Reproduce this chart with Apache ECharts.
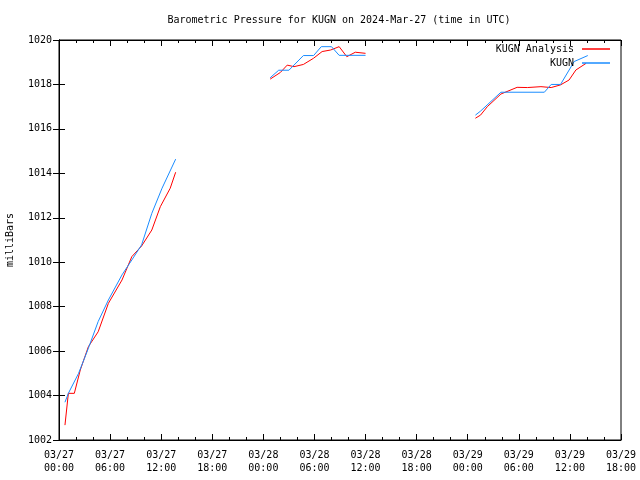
<!DOCTYPE html>
<html><head><meta charset="utf-8">
<script src="https://cdn.jsdelivr.net/npm/echarts@6/dist/echarts.min.js"></script>
<style>html,body{margin:0;padding:0;background:#fff}#c{width:640px;height:480px}</style>
</head><body><div id="c"></div>
<script>
// Hours since 03/27 00:00 UTC; null separates gaps
var analysisHours  = [0.7,1.1,1.8,2.5,3.45,4.6,5.8,7.4,8.55,9.7,10.9,11.9,13.06,13.7, 20,
  24.8,26.0,26.8,27.6,28.7,29.9,30.9,31.9,32.9,33.8,34.8,36.0, 42,
  48.9,49.5,50.3,51.9,53.8,55.0,56.6,57.8,58.9,59.9,60.7,61.9];
var analysisValues = [1002.67,1004.1,1004.1,1005.15,1006.2,1006.87,1008.15,1009.2,1010.25,1010.73,1011.45,1012.5,1013.33,1014.05, null,
  1018.24,1018.54,1018.87,1018.8,1018.9,1019.18,1019.48,1019.55,1019.7,1019.25,1019.45,1019.4, null,
  1016.48,1016.62,1017.0,1017.57,1017.87,1017.86,1017.9,1017.86,1017.98,1018.2,1018.65,1018.95];
var kugnHours  = [0.7,1.1,2.3,3.45,4.6,5.8,7.4,8.55,9.7,10.9,12.1,13.7, 20,
  24.8,25.8,27.0,28.7,29.9,30.8,32.0,32.9,36.0, 42,
  48.9,49.5,51.9,57.0,57.8,58.9,60.5,62.1];
var kugnValues = [1003.7,1004.1,1005.0,1006.13,1007.33,1008.3,1009.43,1010.1,1010.78,1012.2,1013.33,1014.64, null,
  1018.3,1018.64,1018.64,1019.3,1019.3,1019.7,1019.7,1019.31,1019.31, null,
  1016.62,1016.8,1017.65,1017.65,1018.0,1018.0,1019.03,1019.3];
var dayLabels = ['03/27','03/27','03/27','03/27','03/28','03/28','03/28','03/28','03/29','03/29','03/29','03/29'];
var timeLabels = ['00:00','06:00','12:00','18:00','00:00','06:00','12:00','18:00','00:00','06:00','12:00','18:00'];
var yTicks = [1002,1004,1006,1008,1010,1012,1014,1016,1018,1020];

function pairs(h, v){ return h.map(function(x,i){ return [x, v[i]]; }); }
var FONT = 'DejaVu Sans Mono';
var chart = echarts.init(document.getElementById('c'), null, {renderer:'canvas'});
var xCommon = {
  type:'value', min:0, max:66, interval:6,
  axisLine:{show:true, lineStyle:{color:'#000', width:1}},
  axisTick:{show:true, inside:true, length:6, lineStyle:{color:'#000'}},
  minorTick:{show:true, splitNumber:3, length:3, lineStyle:{color:'#000'}},
  splitLine:{show:false}
};
chart.setOption({
  animation:false,
  backgroundColor:'#fff',
  title:{text:'Barometric Pressure for KUGN on 2024-Mar-27 (time in UTC)', left:339, textAlign:'center', top:15, padding:0,
    textStyle:{fontFamily:FONT, fontSize:10, fontWeight:'normal', color:'#000'}},
  legend:[
    {data:['KUGN Analysis'], right:30, top:44, padding:0, orient:'vertical', align:'right', icon:'rect', itemWidth:28, itemHeight:1.5,
     textStyle:{fontFamily:FONT, fontSize:10, color:'#000', padding:[0,3,0,0]}},
    {data:['KUGN'], right:30, top:58, padding:0, orient:'vertical', align:'right', icon:'rect', itemWidth:28, itemHeight:1.5,
     textStyle:{fontFamily:FONT, fontSize:10, color:'#000', padding:[0,3,0,0]}}
  ],
  grid:{left:59, right:19, top:40, bottom:40, show:true, borderColor:'#000', borderWidth:1, containLabel:false, outerBoundsMode:'none'},
  xAxis:[
    Object.assign({}, xCommon, {position:'bottom',
      axisLabel:{show:true, margin:9, lineHeight:13, fontFamily:FONT, fontSize:10, color:'#000',
        formatter:function(v){ var i=Math.round(v/6); return dayLabels[i]+'\n'+timeLabels[i]; }}}),
    Object.assign({}, xCommon, {position:'top', axisLabel:{show:false}})
  ],
  yAxis:[
    {type:'value', min:yTicks[0], max:yTicks[yTicks.length-1], interval:2, position:'left',
     name:'milliBars', nameLocation:'middle', nameGap:44, nameRotate:90,
     nameTextStyle:{fontFamily:FONT, fontSize:10, color:'#000'},
     axisLine:{show:true, lineStyle:{color:'#000'}},
     axisTick:{show:true, inside:true, length:6, lineStyle:{color:'#000'}},
     axisLabel:{margin:7, fontFamily:FONT, fontSize:10, color:'#000', formatter:function(v){ return String(v); }},
     splitLine:{show:false}},
    {type:'value', min:yTicks[0], max:yTicks[yTicks.length-1], interval:2, position:'right',
     axisLine:{show:true, lineStyle:{color:'#000'}},
     axisTick:{show:true, inside:true, length:6, lineStyle:{color:'#000'}},
     axisLabel:{show:false}, splitLine:{show:false}}
  ],
  series:[
    {name:'KUGN Analysis', type:'line', data:pairs(analysisHours, analysisValues), showSymbol:false, symbol:'none',
     connectNulls:false, lineStyle:{color:'#ff0000', width:1}, itemStyle:{color:'#ff0000'}},
    {name:'KUGN', type:'line', data:pairs(kugnHours, kugnValues), showSymbol:false, symbol:'none',
     connectNulls:false, lineStyle:{color:'#1a8cff', width:1}, itemStyle:{color:'#1a8cff'}}
  ]
});
</script></body></html>
